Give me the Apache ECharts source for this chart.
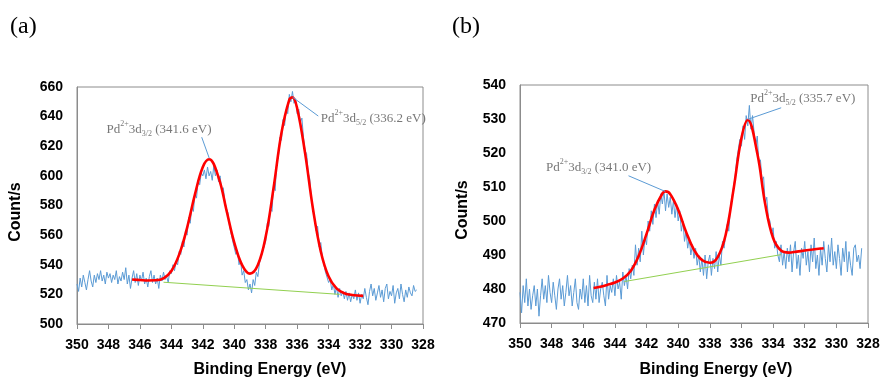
<!DOCTYPE html>
<html><head><meta charset="utf-8">
<script src="https://cdn.jsdelivr.net/npm/echarts@6/dist/echarts.min.js"></script>
<style>html,body{margin:0;padding:0;background:#fff}#c{width:885px;height:382px}</style>
</head><body><div id="c"></div><script>
// ---- data ----
const rawStartEV = 350.0, rawStepEV = 0.1;   // measured spectra: 350.0 eV down to 328.4 eV
const xTickRange = [328, 350, 2];
const yTickRangeA = [500, 660, 20];
const yTickRangeB = [470, 540, 10];

const rawA = [
527,522,531,525,533,528,523,530,536,529,
525,533,528,534,530,536,529,533,527,535,
531,534,528,533,530,536,527,532,529,535,
530,538,527,533,524,531,536,528,534,526,
533,529,535,527,531,525,532,536,528,533,
527,531,524,533,529,535,530,532,528,536,
534,540,536,542,540,549,547,556,552,563,
560,572,568,579,576,588,585,597,594,602,
600,604,598,606,600,603,597,607,600,604,
596,600,590,592,583,578,575,566,566,556,
557,547,550,540,543,533,536,528,530,523,
527,521,530,526,535,532,541,540,549,548,
556,568,566,578,576,594,590,610,612,626,
624,638,634,645,642,655,650,657,649,652,
642,645,636,639,626,617,615,602,598,585,
578,572,563,566,552,555,545,540,535,534,
528,530,523,527,520,525,518,524,519,522,
517,522,516,521,515,520,517,523,516,521,
514,520,517,524,518,513,522,527,519,524,
516,521,526,518,523,515,524,527,517,522,
519,526,514,521,524,517,527,520,515,523,
518,525,521,519,526,522,523];

const fitA = [[346.5,530.0],[346.0,529.7],[345.5,529.4],[345.0,529.5],[344.5,530.8],[344.0,535.8],[343.5,547.0],[343.0,565.0],[342.5,587.5],[342.0,606.0],[341.6,611.2],[341.0,599.0],[340.5,577.0],[340.0,555.0],[339.5,539.8],[339.0,534.0],[338.5,539.8],[338.0,559.0],[337.5,592.0],[337.0,629.0],[336.5,651.5],[336.3,653.0],[336.0,645.5],[335.5,615.5],[335.0,578.0],[334.5,549.0],[334.0,532.0],[333.5,524.0],[333.0,520.8],[332.5,519.6],[331.8,519.0]];
const baseA = [[344.5,528.2],[333.3,520.0]];

const rawB = [
479,473,481,476,483,475,480,474,478,481,
475,480,472,478,483,477,481,476,484,479,
476,482,478,474,480,483,477,481,475,479,
484,478,481,475,479,483,476,474,480,477,
483,476,481,475,484,478,476,482,477,483,
476,480,482,478,475,484,477,481,479,483,
478,484,480,482,477,485,481,484,480,486,
483,487,484,493,487,492,488,497,490,495,
493,500,497,503,499,505,501,506,502,508,
505,509,503,508,504,507,502,506,501,505,
500,503,497,500,494,497,492,495,490,493,
489,492,487,490,485,489,484,490,483,488,
490,484,489,486,491,485,490,487,494,492,
496,499,497,504,507,510,513,518,521,524,
522,528,524,531,528,534,527,531,526,522,
525,517,518,512,513,505,507,501,500,496,
498,492,494,490,488,493,487,491,486,492,
488,493,485,491,494,486,490,484,492,489,
494,487,491,485,493,488,495,486,490,484,
492,487,494,489,485,493,488,495,487,491,
486,493,489,484,492,488,494,485,491,487,
484,492,493,488,490,486,492];

const fitB = [[345.35,480.3],[345.0,480.6],[344.5,481.2],[344.0,481.9],[343.5,483.1],[343.0,485.3],[342.5,489.7],[342.0,496.2],[341.5,503.3],[341.0,508.1],[340.8,508.7],[340.5,507.9],[340.0,503.3],[339.5,496.8],[339.0,491.5],[338.5,488.5],[338.0,487.7],[337.5,489.4],[337.0,495.9],[336.5,509.3],[336.0,524.4],[335.6,529.7],[335.0,519.9],[334.5,505.0],[334.0,495.0],[333.5,491.3],[333.0,490.7],[332.5,491.0],[332.0,491.3],[331.5,491.6],[331.0,491.9],[330.8,492.0]];
const baseB = [[343.4,482.2],[333.5,490.1]];

// annotations: peak tip, leader end, text centre (data coords), label parts
const annA = [
  {tip:[341.59,611.9], end:[342.07,626.1], at:[344.79,631.5], sub:'3/2', ev:'341.6'},
  {tip:[336.29,653.1], end:[334.66,640.4], at:[331.16,638.9], sub:'5/2', ev:'336.2'}];
const annB = [
  {tip:[340.82,508.7], end:[343.14,513.3], at:[345.03,515.8], sub:'3/2', ev:'341.0'},
  {tip:[335.60,529.9], end:[333.49,533.3], at:[332.12,536.1], sub:'5/2', ev:'335.7'}];

const panelLabels = ['(a)', '(b)'];
const xName = 'Binding Energy (eV)';
const yName = 'Count/s';

// ---- chart ----
const toXY = arr => arr.map((v,i)=>[+(rawStartEV - i*rawStepEV).toFixed(1), v]);
const AX = '#8c8c8c';
const tickFont = {color:'#000', fontWeight:'bold', fontSize:14, fontFamily:'Liberation Sans, Arial, sans-serif'};

function xAxis(g){return {type:'value', gridIndex:g, min:xTickRange[0], max:xTickRange[1], interval:xTickRange[2], inverse:true,
  axisLine:{show:true, onZero:false, lineStyle:{color:AX, width:1}}, axisTick:{show:true, inside:false, length:5, lineStyle:{color:AX}},
  axisLabel:Object.assign({margin:14}, tickFont), splitLine:{show:false}};}
function yAxis(g, r){return {type:'value', gridIndex:g, min:r[0], max:r[1], interval:r[2],
  axisLine:{show:true, lineStyle:{color:AX, width:1}}, axisTick:{show:false},
  axisLabel:Object.assign({margin:14}, tickFont), splitLine:{show:false}};}

function panelSeries(g, raw, fit, base, ann){
  const s = [];
  s.push({type:'line', xAxisIndex:g, yAxisIndex:g, data:toXY(raw), showSymbol:false, symbol:'none', silent:true,
    lineStyle:{color:'#5b9bd5', width:1}, z:2});
  s.push({type:'line', xAxisIndex:g, yAxisIndex:g, data:base, showSymbol:false, symbol:'none', silent:true,
    lineStyle:{color:'#92d050', width:1}, z:3});
  s.push({type:'line', xAxisIndex:g, yAxisIndex:g, data:fit, showSymbol:false, symbol:'none', smooth:0.4, silent:true,
    lineStyle:{color:'#ff0000', width:2.6}, z:4});
  ann.forEach(a=>{
    s.push({type:'line', xAxisIndex:g, yAxisIndex:g, data:[a.end, a.tip], showSymbol:false, symbol:'none', silent:true,
      lineStyle:{color:'#5b9bd5', width:1}, z:5});
    s.push({type:'scatter', xAxisIndex:g, yAxisIndex:g, data:[a.at], symbolSize:1, itemStyle:{color:'rgba(0,0,0,0)'}, silent:true, z:6,
      label:{show:true, position:'inside', color:'#555',
        formatter:'{m|Pd}{sup|2+}{m|3d}{sub|'+a.sub+'}{m| ('+a.ev+' eV)}',
        rich:{
          m:{fontFamily:'Liberation Serif, serif', fontSize:13, color:'#555', lineHeight:18},
          sup:{fontFamily:'Liberation Serif, serif', fontSize:8, color:'#555', verticalAlign:'top', lineHeight:10},
          sub:{fontFamily:'Liberation Serif, serif', fontSize:8, color:'#555', verticalAlign:'bottom', lineHeight:11}
        }}});
  });
  return s;
}

const nameStyle = {fill:'#000', font:'bold 16px "Liberation Sans", Arial, sans-serif', textAlign:'center', textVerticalAlign:'middle'};
const chart = echarts.init(document.getElementById('c'), null, {renderer:'canvas'});
chart.setOption({
  animation:false,
  backgroundColor:'#fff',
  grid:[
    {left:77, top:87, width:346, height:237, show:true, borderColor:AX, borderWidth:1, backgroundColor:'transparent'},
    {left:520, top:85, width:348, height:238, show:true, borderColor:AX, borderWidth:1, backgroundColor:'transparent'}],
  xAxis:[xAxis(0), xAxis(1)],
  yAxis:[yAxis(0, yTickRangeA), yAxis(1, yTickRangeB)],
  series:[].concat(panelSeries(0, rawA, fitA, baseA, annA), panelSeries(1, rawB, fitB, baseB, annB)),
  graphic:[
    {type:'text', left:10, top:15, style:{text:panelLabels[0], fill:'#000', font:'24px "Liberation Serif", serif'}},
    {type:'text', left:452, top:15, style:{text:panelLabels[1], fill:'#000', font:'24px "Liberation Serif", serif'}},
    {type:'text', x:270, y:370, style:Object.assign({text:xName}, nameStyle)},
    {type:'text', x:716, y:370, style:Object.assign({text:xName}, nameStyle)},
    {type:'text', x:16, y:212, rotation:Math.PI/2, style:Object.assign({text:yName}, nameStyle)},
    {type:'text', x:463, y:210, rotation:Math.PI/2, style:Object.assign({text:yName}, nameStyle)}
  ]
});
</script></body></html>
